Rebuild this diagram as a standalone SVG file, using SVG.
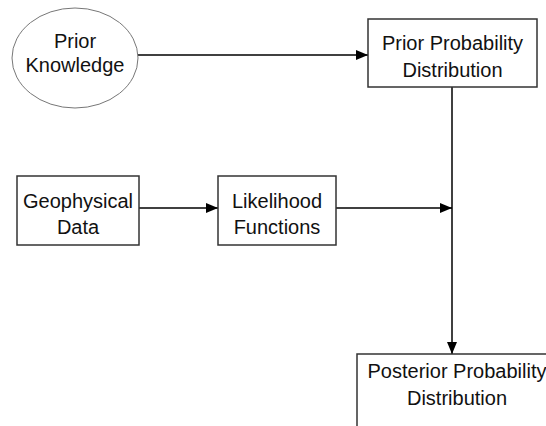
<svg xmlns="http://www.w3.org/2000/svg" width="546" height="426" viewBox="0 0 546 426">
<defs>
<style>
.box{fill:#fff;stroke:#333;stroke-width:1.5}
.ell{fill:#fff;stroke:#777;stroke-width:1}
.lbl{font-family:"Liberation Sans",Arial,sans-serif;font-size:20px;fill:#111;text-anchor:middle}
.con{fill:none;stroke:#000;stroke-width:1.5}
</style>
<marker id="arr" markerWidth="12" markerHeight="10" refX="12" refY="5" orient="auto" markerUnits="userSpaceOnUse">
<path d="M0,0 L12,5 L0,10 Z" fill="#000"/>
</marker>
</defs>
<rect width="546" height="426" fill="#fff"/>
<g id="connectors">
<line class="con" x1="138" y1="55" x2="368" y2="55" marker-end="url(#arr)"/>
<line class="con" x1="452" y1="87" x2="452" y2="354" marker-end="url(#arr)"/>
<line class="con" x1="139" y1="208" x2="218" y2="208" marker-end="url(#arr)"/>
<line class="con" x1="336" y1="208" x2="452" y2="208" marker-end="url(#arr)"/>
</g>
<g id="prior-knowledge">
<ellipse class="ell" cx="75" cy="58" rx="63" ry="50"/>
<text class="lbl" x="75" y="48">Prior</text>
<text class="lbl" x="75" y="72">Knowledge</text>
</g>
<g id="prior-probability">
<rect class="box" x="368" y="19" width="169" height="68"/>
<text class="lbl" x="452.5" y="50">Prior Probability</text>
<text class="lbl" x="452.5" y="77">Distribution</text>
</g>
<g id="geophysical-data">
<rect class="box" x="17" y="176" width="122" height="69"/>
<text class="lbl" x="78" y="208">Geophysical</text>
<text class="lbl" x="78" y="234">Data</text>
</g>
<g id="likelihood-functions">
<rect class="box" x="218" y="176" width="118" height="69"/>
<text class="lbl" x="277" y="208">Likelihood</text>
<text class="lbl" x="277" y="234">Functions</text>
</g>
<g id="posterior-probability">
<rect class="box" x="357" y="354" width="200" height="90"/>
<text class="lbl" x="457" y="378">Posterior Probability</text>
<text class="lbl" x="457" y="405">Distribution</text>
</g>
</svg>
